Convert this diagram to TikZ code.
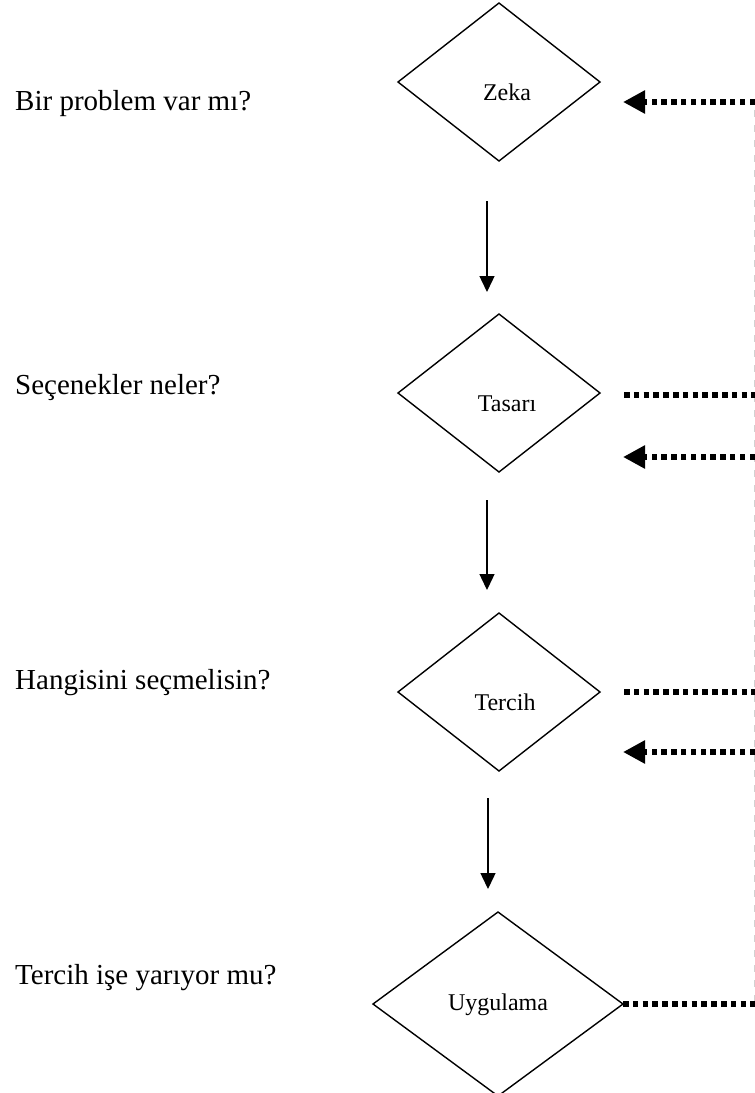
\documentclass[tikz,border=0pt]{standalone}
\usepackage{fontspec}
\setmainfont{Liberation Serif}
\usetikzlibrary{shapes.geometric,arrows.meta}

\tikzset{
  decision/.style={draw, line width=1.4pt, diamond, inner sep=0pt, outer sep=0pt,
    minimum width=202pt, minimum height=158pt},
  bigdecision/.style={decision, minimum width=250pt, minimum height=184pt},
  question/.style={anchor=west, inner sep=0pt, font=\fontsize{29}{34}\selectfont},
  steplabel/.style={inner sep=0pt, font=\fontsize{24}{28}\selectfont},
  flow/.style={line width=1.4pt, -{Triangle[length=16pt,width=15pt]}},
  feedback/.style={line width=5.5pt, dash pattern=on 5.5pt off 4.3pt},
  feedbackarrow/.style={feedback, -{Triangle[length=22pt,width=22pt]}},
  rail/.style={draw=black!18, line width=1pt, dash pattern=on 7pt off 8pt}
}

\begin{document}
\begin{tikzpicture}[x=1pt, y=-1pt]
  \useasboundingbox (0,0) rectangle (755,1093);

  % decision diamonds
  \node[decision] (zeka) at (499,82) {};
  \node[decision] (tasari) at (499,393) {};
  \node[decision] (tercih) at (499,692) {};
  \node[bigdecision] (uygulama) at (498,1004) {};

  % labels inside the diamonds
  \node[steplabel] (lzeka) at (507,92) {Zeka};
  \node[steplabel] (ltasari) at (507,404) {Tasarı};
  \node[steplabel] (ltercih) at (505,702) {Tercih};
  \node[steplabel] (luygulama) at (498,1005) {Uygulama};

  % questions on the left
  \node[question] (q1) at (15,104) {Bir problem var mı?};
  \node[question] (q2) at (15,388) {Seçenekler neler?};
  \node[question] (q3) at (15,683) {Hangisini seçmelisin?};
  \node[question] (q4) at (15,978) {Tercih işe yarıyor mu?};

  % downward flow arrows
  \coordinate (a1s) at (487,201); \coordinate (a1e) at (487,292);
  \coordinate (a2s) at (487,500); \coordinate (a2e) at (487,590);
  \coordinate (a3s) at (488,798); \coordinate (a3e) at (488,889);
  \draw[flow] (a1s) -- (a1e);
  \draw[flow] (a2s) -- (a2e);
  \draw[flow] (a3s) -- (a3e);

  % feedback rail on the right edge
  \coordinate (railtop) at (754,110);
  \coordinate (railbot) at (754,1003);
  \draw[rail] (railtop) -- (railbot);

  % feedback connections
  \coordinate (r1) at (755,102);  \coordinate (t1) at (623,102);
  \coordinate (r2) at (755,395);  \coordinate (t2) at (624,395);
  \coordinate (r3) at (755,457);  \coordinate (t3) at (623,457);
  \coordinate (r4) at (755,692);  \coordinate (t4) at (624,692);
  \coordinate (r5) at (755,752);  \coordinate (t5) at (623,752);
  \coordinate (r6) at (755,1004);

  \draw[feedbackarrow] (r1) -- (t1);
  \draw[feedback] (t2) -- (r2);
  \draw[feedbackarrow] (r3) -- (t3);
  \draw[feedback] (t4) -- (r4);
  \draw[feedbackarrow] (r5) -- (t5);
  \draw[feedback] (uygulama.east) -- (r6);
\end{tikzpicture}
\end{document}
